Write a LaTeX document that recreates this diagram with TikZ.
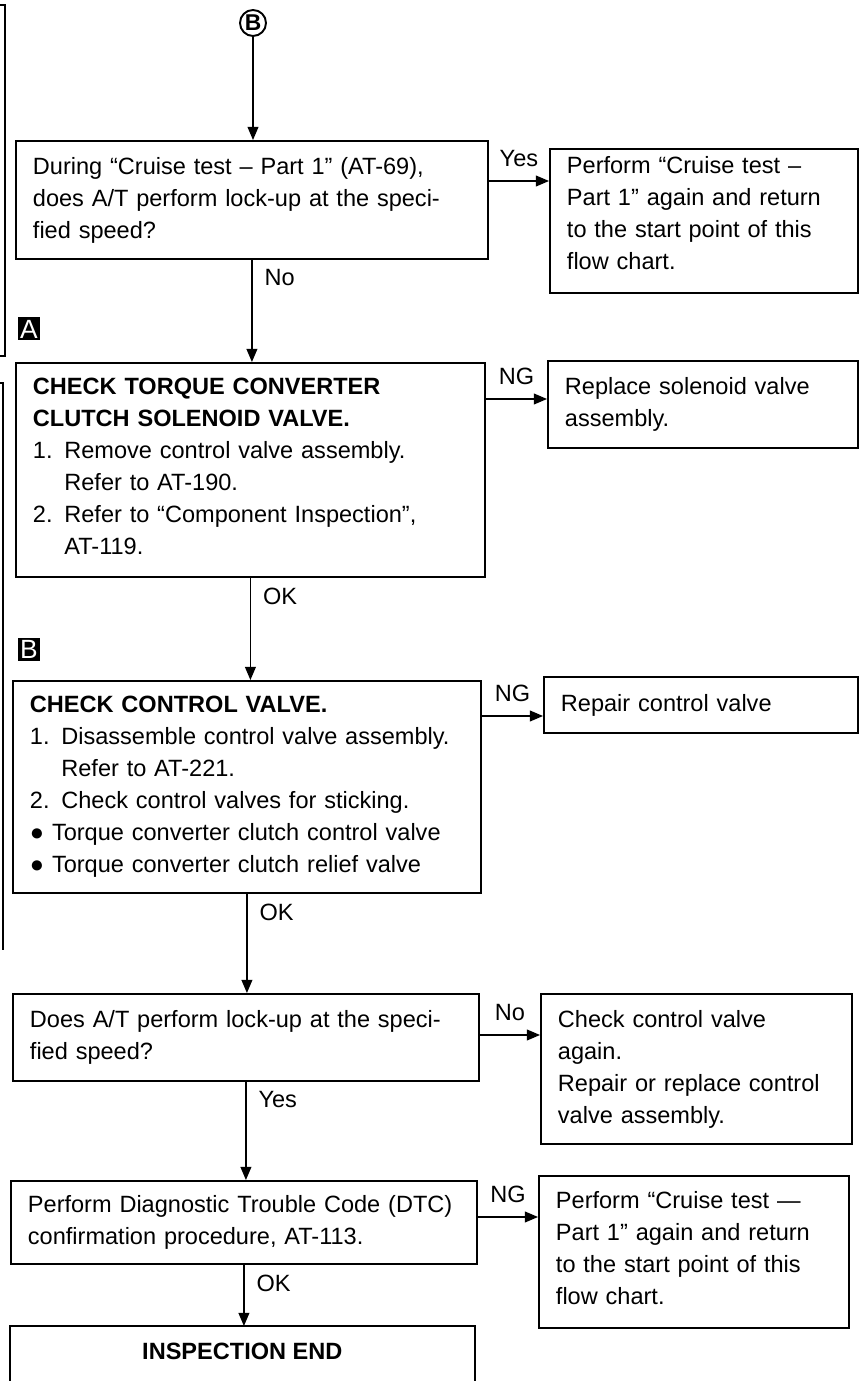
\documentclass[tikz,border=0pt]{standalone}
\usepackage{fontspec}
\setmainfont{Liberation Sans}
\usetikzlibrary{arrows.meta,calc}

\tikzset{
    caixa/.style={
        draw,
        line width=1.1pt,
        anchor=north west,
        align=left,
        inner xsep=0.34cm,
        inner ysep=0pt,
        font=\fontsize{13.4}{18.2}\selectfont
    },
    etiq/.style={
        font=\fontsize{13.4}{16}\selectfont,
        inner sep=2pt
    },
    fletxa/.style={
        ->,
        line width=0.75pt
    },
    marca/.style={
        fill=black,
        text=white,
        inner sep=0pt,
        minimum size=0.46cm,
        font=\fontsize{15}{15}\selectfont
    }
}

\begin{document}
\begin{tikzpicture}[>={Triangle[length=7.5pt,width=6.2pt]}, x=0.02cm, y=-0.02cm]
\useasboundingbox (0,0) rectangle (860,1381);

    % Claudàtors laterals
    \draw[line width=0.8pt] (0,5) -- (5,5) -- (5,356) -- (0,356);
    \draw[line width=0.8pt] (0,383) -- (3,383) -- (3,950);

    % Inici
    \node[
        circle,
        draw,
        line width=1.1pt,
        inner sep=0pt,
        minimum size=0.52cm,
        font=\bfseries\fontsize{13}{13}\selectfont
    ] (inici) at (253,23) {B};

    % Marques
    \node[marca] (marcaA) at (29,329) {A};
    \node[marca] (marcaB) at (29,649) {B};

    % Caixes de l'esquerra
    \node[caixa, text width=8.76cm, minimum height=2.36cm] (prova) at (15,140)
        {During “Cruise test – Part 1” (AT-69),\\does A/T perform lock-up at the speci-\\fied speed?};
    \node[caixa, text width=8.70cm, minimum height=4.28cm] (solenoide) at (15,362)
        {\textbf{CHECK TORQUE CONVERTER}\\\textbf{CLUTCH SOLENOID VALVE.}\\1. Remove control valve assembly.\\\phantom{1. }Refer to AT-190.\\2. Refer to “Component Inspection”,\\\phantom{1. }AT-119.\rule[-0.16cm]{0pt}{0pt}};
    \node[caixa, text width=8.68cm, minimum height=4.24cm] (valvula) at (12,680)
        {\textbf{CHECK CONTROL VALVE.}\\1. Disassemble control valve assembly.\\\phantom{1. }Refer to AT-221.\\2. Check control valves for sticking.\\● Torque converter clutch control valve\\● Torque converter clutch relief valve};
    \node[caixa, text width=8.64cm, minimum height=1.74cm] (bloqueig) at (12,993)
        {Does A/T perform lock-up at the speci-\\fied speed?};
    \node[caixa, text width=8.64cm, minimum height=1.66cm] (dtc) at (10,1180)
        {Perform Diagnostic Trouble Code (DTC)\\confirmation procedure, AT-113.};
    \node[
        anchor=north west,
        minimum width=9.28cm,
        minimum height=1.0cm,
        inner sep=0pt,
        font=\bfseries\fontsize{13.4}{18.2}\selectfont
    ] (final) at (10,1326) {INSPECTION END};
    \draw[line width=1.1pt]
        ($(final.south west)+(0,40)$) -- (final.north west) -- (final.north east) -- ($(final.south east)+(0,40)$);

    % Caixes de la dreta
    \node[caixa, text width=5.48cm, minimum height=2.88cm] (repetir1) at (549,148)
        {Perform “Cruise test –\\Part 1” again and return\\to the start point of this\\flow chart.\rule[-0.32cm]{0pt}{0pt}};
    \node[caixa, text width=5.52cm, minimum height=1.74cm] (canvi) at (547,360)
        {Replace solenoid valve\\assembly.};
    \node[caixa, text width=5.60cm, minimum height=1.12cm] (reparar) at (543,676)
        {Repair control valve};
    \node[caixa, text width=5.54cm, minimum height=3.0cm] (revisar) at (540,993)
        {Check control valve\\again.\\Repair or replace control\\valve assembly.};
    \node[caixa, text width=5.52cm, minimum height=3.04cm] (repetir2) at (538,1175)
        {Perform “Cruise test —\\Part 1” again and return\\to the start point of this\\flow chart.\rule[-0.16cm]{0pt}{0pt}};

    % Fletxes verticals
    \draw[fletxa] (inici) -- (inici |- prova.north);
    \draw[fletxa] (prova.south) --
        node[etiq, pos=0, anchor=north west, xshift=4.8pt, yshift=-3.2pt] {No}
        (prova.south |- solenoide.north);
    \draw[fletxa] (solenoide.south) --
        node[etiq, pos=0, anchor=north west, xshift=4.8pt, yshift=-3.2pt] {OK}
        (solenoide.south |- valvula.north);
    \draw[fletxa] (valvula.south) --
        node[etiq, pos=0, anchor=north west, xshift=4.8pt, yshift=-3.2pt] {OK}
        (valvula.south |- bloqueig.north);
    \draw[fletxa] (bloqueig.south) --
        node[etiq, pos=0, anchor=north west, xshift=4.8pt, yshift=-3.2pt] {Yes}
        (bloqueig.south |- dtc.north);
    \draw[fletxa] (dtc.south) --
        node[etiq, pos=0, anchor=north west, xshift=4.8pt, yshift=-3.2pt] {OK}
        (dtc.south |- final.north);

    % Fletxes horitzontals
    \coordinate (h1) at ($(repetir1.north west)+(0,33)$);
    \coordinate (h2) at ($(canvi.north west)+(0,39)$);
    \coordinate (h3) at ($(reparar.north west)+(0,40)$);
    \coordinate (h4) at ($(revisar.north west)+(0,42)$);
    \coordinate (h5) at ($(repetir2.north west)+(0,42)$);
    \draw[fletxa] (prova.east |- h1) -- node[etiq, above=5.5pt] {Yes} (h1);
    \draw[fletxa] (solenoide.east |- h2) -- node[etiq, above=5.5pt] {NG} (h2);
    \draw[fletxa] (valvula.east |- h3) -- node[etiq, above=5.5pt] {NG} (h3);
    \draw[fletxa] (bloqueig.east |- h4) -- node[etiq, above=5.5pt] {No} (h4);
    \draw[fletxa] (dtc.east |- h5) -- node[etiq, above=5.5pt] {NG} (h5);

\end{tikzpicture}
\end{document}
